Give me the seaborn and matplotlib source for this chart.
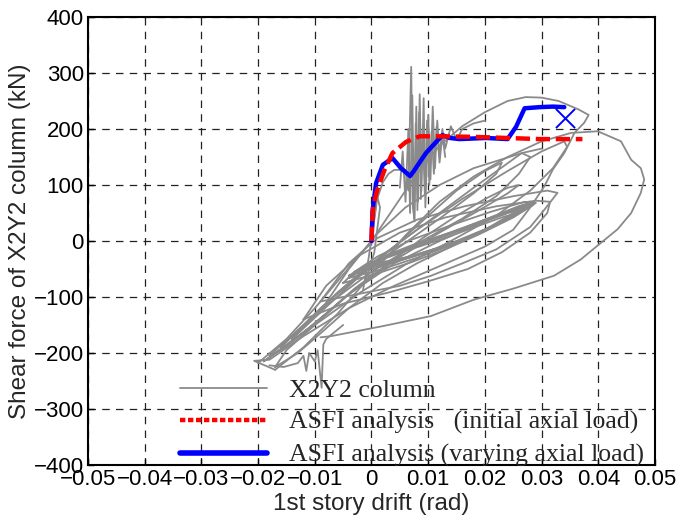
import numpy as np
import pandas as pd
import matplotlib
matplotlib.use("Agg")
import matplotlib.pyplot as plt
from matplotlib.lines import Line2D
import seaborn as sns

# ---------------- data ----------------
# Experimental hysteresis of X2Y2 column: list of traced segments (drift rad, shear kN)
seg_core1 = [(-0.004,-62),(0.002,-45),(0.008,-25),(0.014,-5),(0.020,20),(0.025,45),(0.028,65),(0.026,62),(0.021,42),(0.015,18),(0.009,-5),(0.003,-28),(-0.002,-50),(-0.004,-62)]
seg_core2 = [(-0.003,-55),(0.003,-40),(0.009,-22),(0.015,0),(0.021,25),(0.026,52),(0.0285,68),(0.0265,64),(0.022,46),(0.016,22),(0.010,0),(0.004,-22),(-0.001,-45),(-0.003,-55)]
seg_core3 = [(-0.002,-50),(0.004,-38),(0.010,-20),(0.016,2),(0.022,30),(0.027,58),(0.0275,62),(0.024,50),(0.018,28),(0.012,5),(0.006,-16),(0.000,-38),(-0.002,-50)]
seg_core4 = [(0.000,-42),(0.006,-30),(0.012,-12),(0.018,10),(0.023,35),(0.026,55),(0.024,50),(0.019,32),(0.013,12),(0.007,-8),(0.002,-28),(0.000,-42)]
seg_core5 = [(-0.005,-75),(0.001,-58),(0.007,-38),(0.013,-15),(0.019,12),(0.025,42),(0.029,68),(0.027,70),(0.021,52),(0.014,28),(0.007,2),(0.001,-28),(-0.003,-55),(-0.005,-75)]
seg_core6 = [(-0.001,-46),(0.005,-34),(0.011,-16),(0.017,6),(0.022,28),(0.0255,48),(0.0235,44),(0.018,24),(0.012,2),(0.006,-18),(0.001,-36),(-0.001,-46)]
seg_core7 = [(0.001,-40),(0.007,-27),(0.013,-8),(0.019,14),(0.024,40),(0.027,60),(0.025,55),(0.020,36),(0.014,14),(0.008,-6),(0.003,-26),(0.001,-40)]
seg_core8 = [(-0.004,-66),(0.002,-50),(0.008,-30),(0.014,-8),(0.020,18),(0.0255,46),(0.0285,64),(0.026,58),(0.020,38),(0.013,12),(0.006,-14),(0.000,-40),(-0.004,-66)]
seg_e3 = [(-0.009,-108),(-0.002,-94),(0.005,-80),(0.0105,-62),(0.016,-40),(0.022,-15),(0.028,25),(0.0305,56),(0.0328,86),(0.031,90),(0.025,80),(0.0164,62),(0.008,38),(0.001,5),(-0.004,-40),(-0.009,-108)]
seg_e4 = [(-0.012,-140),(-0.005,-112),(0.003,-92),(0.010,-72),(0.017,-50),(0.023,-20),(0.028,15),(0.031,50),(0.0315,70),(0.029,72),(0.022,62),(0.013,42),(0.005,15),(-0.002,-25),(-0.008,-80),(-0.012,-140)]
seg_m2 = [(-0.018,-205),(-0.012,-150),(-0.006,-92),(0.000,-40),(0.008,20),(0.016,75),(0.024,125),(0.030,160),(0.034,178),(0.0345,168),(0.032,130),(0.028,90),(0.022,45),(0.014,0),(0.006,-42),(-0.002,-92),(-0.010,-150),(-0.016,-195),(-0.018,-205)]
seg_m3 = [(-0.016,-190),(-0.010,-130),(-0.004,-75),(0.002,-25),(0.010,35),(0.018,95),(0.0265,157),(0.028,150),(0.026,120),(0.022,80),(0.016,40),(0.008,-5),(0.000,-55),(-0.008,-115),(-0.014,-170),(-0.016,-190)]
seg_m4 = [(-0.014,-175),(-0.008,-118),(-0.002,-62),(0.004,-10),(0.010,45),(0.015,90),(0.020,125),(0.023,140),(0.022,120),(0.018,85),(0.012,40),(0.005,-10),(-0.002,-60),(-0.009,-120),(-0.014,-175)]
seg_m5 = [(-0.019,-215),(-0.014,-180),(-0.008,-130),(-0.003,-85),(0.003,-40),(0.009,5),(0.015,45),(0.020,75),(0.024,95),(0.026,100),(0.024,85),(0.019,55),(0.012,15),(0.004,-35),(-0.004,-95),(-0.011,-155),(-0.017,-200),(-0.019,-215)]
seg_m6 = [(-0.017,-225),(-0.013,-200),(-0.009,-165),(-0.004,-120),(0.002,-75),(0.008,-40),(0.014,-10),(0.020,20),(0.025,50),(0.028,70),(0.026,60),(0.020,35),(0.012,0),(0.004,-40),(-0.004,-95),(-0.010,-150),(-0.015,-195),(-0.017,-225)]
seg_m7 = [(-0.008,-110),(-0.004,-50),(0.001,13),(0.006,60),(0.012,100),(0.018,130),(0.0265,157),(0.030,165)]
seg_c2 = [(-0.020,-218),(-0.015,-175),(-0.010,-120),(-0.005,-60),(0.000,0),(0.004,60),(0.008,120),(0.012,170),(0.016,205),(0.020,230),(0.024,250),(0.0272,257),(0.030,256),(0.033,250),(0.0365,235),(0.0383,225),(0.0375,211),(0.0358,193),(0.034,157),(0.032,128),(0.0305,98),(0.028,60),(0.025,20),(0.020,-10),(0.012,-45),(0.004,-80),(-0.004,-120),(-0.012,-170),(-0.018,-212),(-0.0207,-214),(-0.017,-230)]
seg_c1 = [(-0.017,-230),(-0.012,-190),(-0.006,-130),(0.000,-60),(0.006,10),(0.012,70),(0.018,115),(0.024,150),(0.030,178),(0.0352,193),(0.0399,196),(0.044,178),(0.0458,145),(0.0475,130),(0.0481,110),(0.0475,86),(0.0458,50),(0.0434,21),(0.0405,-3),(0.0369,-33),(0.0322,-62),(0.025,-85),(0.018,-105),(0.0105,-134),(0.002,-152),(-0.0072,-170),(-0.009,-172)]
seg_spk = [(0.000,0),(0.0005,40),(0.001,75),(0.002,105),(0.003,120),(0.004,127),(0.006,127),(0.0065,90),(0.0070,311),(0.0073,60),(0.0076,35),(0.0079,240),(0.0082,70),(0.0085,262),(0.0088,90),(0.0092,255),(0.0095,60),(0.0100,225),(0.0104,110),(0.0108,240),(0.0112,130),(0.0116,215),(0.0120,150),(0.0125,200),(0.013,165),(0.014,205),(0.015,180),(0.016,200),(0.018,210),(0.020,215)]
seg_spk2 = [(0.005,95),(0.0055,160),(0.006,70),(0.0065,200),(0.0068,50),(0.0072,260),(0.0075,40),(0.0078,210),(0.0081,55),(0.0084,230),(0.0087,75),(0.009,200),(0.0094,85),(0.0098,215),(0.0102,100),(0.0106,195),(0.011,120),(0.0115,205),(0.012,140),(0.0125,190),(0.013,150)]
seg_low = [(-0.018,-222),(-0.0155,-225),(-0.013,-218),(-0.012,-205),(-0.0115,-232),(-0.011,-200),(-0.010,-215),(-0.0095,-195),(-0.0088,-262),(-0.0085,-185),(-0.008,-175),(-0.005,-150)]
seg_vert = [(-0.0015,-88),(-0.0005,-30),(0.0005,40),(0.001,80),(0.0015,60),(0.0005,-20),(-0.001,-70)]

exp_segments = [seg_core1, seg_core2, seg_core3, seg_core4, seg_core5, seg_core6,
                seg_core7, seg_core8, seg_e3, seg_e4, seg_m2, seg_m3, seg_m4,
                seg_m5, seg_m6, seg_m7, seg_c2, seg_c1,
                seg_spk, seg_spk2, seg_low, seg_vert]

# ASFI analysis (initial axial load)
init_x = [0.0, 0.0001, 0.0003, 0.001, 0.0023, 0.0037, 0.0061, 0.0085, 0.0120, 0.0179, 0.0238, 0.0296, 0.0372]
init_y = [0, 32, 62, 91, 127, 157, 177, 187, 187, 186, 184, 182, 182]

# ASFI analysis (varying axial load)
vary_x = [0.0, 0.0002, 0.0008, 0.0020, 0.0037, 0.0052, 0.0068, 0.0074, 0.0096, 0.0125, 0.0138, 0.0155, 0.0202, 0.0240, 0.0255, 0.0270, 0.0296, 0.0320, 0.0340]
vary_y = [0, 55, 103, 136, 148, 130, 116, 124, 157, 189, 184, 182, 184, 182, 204, 237, 239, 240, 239]

fail_x = [0.0342]
fail_y = [219]

x_ticks = [-0.05, -0.04, -0.03, -0.02, -0.01, 0, 0.01, 0.02, 0.03, 0.04, 0.05]
x_ticklabels = ["\u22120.05", "\u22120.04", "\u22120.03", "\u22120.02", "\u22120.01", "0",
                "0.01", "0.02", "0.03", "0.04", "0.05"]
y_ticks = [-400, -300, -200, -100, 0, 100, 200, 300, 400]
y_ticklabels = ["\u2212400", "\u2212300", "\u2212200", "\u2212100", "0", "100", "200", "300", "400"]

legend_labels = ["X2Y2 column", "ASFI analysis   (initial axial load)", "ASFI analysis (varying axial load)"]

# ---------------- plotting ----------------
sns.set_style("white")
plt.rcParams["font.family"] = ["Liberation Sans", "DejaVu Sans"]

fig = plt.figure(figsize=(6.78, 5.22), dpi=100)
ax = fig.add_axes([88/678, 57/522, 567/678, 448/522])

rows = []
for i, seg in enumerate(exp_segments):
    for (xv, yv) in seg:
        rows.append({"seg": i, "x": xv, "y": yv})
exp_df = pd.DataFrame(rows)

sns.lineplot(data=exp_df, x="x", y="y", units="seg", estimator=None, sort=False,
             color="#8a8a8a", linewidth=1.3, ax=ax, legend=False, zorder=2)

sns.lineplot(x=vary_x, y=vary_y, sort=False, estimator=None, color="#0000ff",
             linewidth=3.2, ax=ax, zorder=3)
sns.lineplot(x=init_x, y=init_y, sort=False, estimator=None, color="#ff0000",
             linewidth=3.2, ax=ax, zorder=4)
ax.lines[-1].set_linestyle((0, (3.2, 1.3)))
ax.lines[-1].set_dash_capstyle("butt")

sns.scatterplot(x=fail_x, y=fail_y, marker="x", s=190, color="#0000ff",
                linewidth=1.4, ax=ax, zorder=5)

ax.set_xlim(-0.05, 0.05)
ax.set_ylim(-400, 400)
ax.set_xticks(x_ticks)
ax.set_xticklabels(x_ticklabels)
ax.set_yticks(y_ticks)
ax.set_yticklabels(y_ticklabels)
ax.tick_params(axis="both", direction="in", length=4, width=1, labelsize=16,
               pad=3, colors="black", left=True, bottom=True)
ax.grid(True, color="#222222", linestyle=(0, (6, 5)), linewidth=0.9)
ax.set_axisbelow(True)
for sp in ax.spines.values():
    sp.set_color("black")
    sp.set_linewidth(1.5)

ax.set_xlabel("1st story drift (rad)", fontsize=17.5, labelpad=2)
ax.set_ylabel("Shear force of X2Y2 column (kN)", fontsize=17.5, labelpad=2)

handles = [Line2D([], [], color="#8a8a8a", linewidth=1.3),
           Line2D([], [], color="#ff0000", linewidth=3.2, linestyle=(0, (1.2, 0.6))),
           Line2D([], [], color="#0000ff", linewidth=4)]
ax.legend(handles, legend_labels, loc="lower left",
          bbox_to_anchor=(180/678, 55/522), bbox_transform=fig.transFigure,
          frameon=False, prop={"family": ["Liberation Serif"], "size": 18.5},
          handlelength=3.4, handletextpad=0.85, labelspacing=0.36, borderpad=0,
          borderaxespad=0)

fig.savefig("out.png", dpi=100)
